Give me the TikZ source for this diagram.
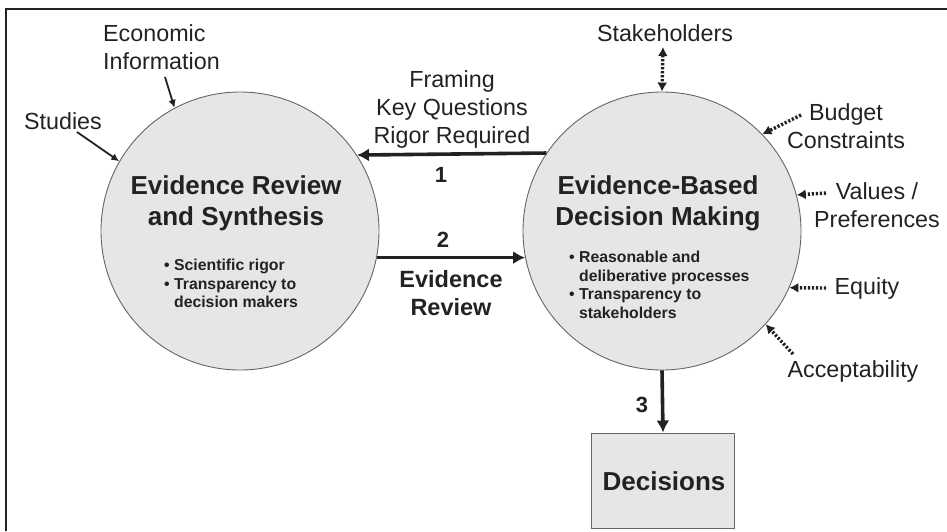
\documentclass[tikz,border=0pt]{standalone}
\usepackage{fontspec}
\setmainfont{Liberation Sans}
\usetikzlibrary{arrows.meta}
\definecolor{fillgray}{HTML}{E6E6E6}
\definecolor{inkc}{HTML}{222222}
\tikzset{
  bubble/.style={circle, draw=gray!80!black, line width=0.9pt, fill=fillgray, minimum size=278pt, inner sep=0pt},
  lab/.style={font=\fontsize{23.3}{28}\selectfont, text=inkc, align=center, inner sep=0pt},
  title/.style={font=\fontsize{26}{31}\selectfont\bfseries, text=inkc, align=center, inner sep=0pt},
  bul/.style={font=\fontsize{15.8}{18.5}\selectfont\bfseries, text=inkc, align=left, inner sep=0pt},
  num/.style={font=\fontsize{22}{26}\selectfont\bfseries, text=inkc, inner sep=0pt},
  thickarrow/.style={draw=inkc, line width=3.6pt, -{Latex[length=12pt,width=13pt]}},
  thinarrow/.style={draw=inkc, line width=1.8pt, -{Latex[length=8pt,width=7.5pt]}},
  dotarrow/.style={draw=inkc, line width=3.4pt, dash pattern=on 2.2pt off 1.8pt, -{Latex[length=9pt,width=10pt]}},
}
\begin{document}
\begin{tikzpicture}[x=1pt,y=-1pt]
\useasboundingbox (0,0) rectangle (947,531);
\draw[line width=1.4pt, inkc] (6,531) -- (6,9) -- (947,9);

% circles
\node[bubble] (L) at (240,231) {};
\node[bubble] (R) at (662,231) {};
\node[draw=gray!80!black, line width=1pt, fill=fillgray, minimum width=143pt, minimum height=95pt, inner sep=0pt] (D) at (663,480.5) {};

% titles
\node[title] (Lt) at (236,203) {Evidence Review\\and Synthesis};
\node[title] (Rt) at (658,203) {Evidence-Based\\Decision Making};
\node[title] (Dt) at (664,481) {Decisions};

% bullets
\node[bul, anchor=north west] (Lb) at (164,259) {\textbullet\ Scientific rigor\\\textbullet\ Transparency to\\\phantom{\textbullet\ }decision makers};
\node[bul, anchor=north west] (Rb) at (569,251) {\textbullet\ Reasonable and\\\phantom{\textbullet\ }deliberative processes\\\textbullet\ Transparency to\\\phantom{\textbullet\ }stakeholders};

% labels
\node[lab, align=left, anchor=west] (eco) at (103,47) {Economic\\Information};
\node[lab] (stu) at (63,121) {Studies};
\node[lab] (fra) at (452,109) {Framing\\Key Questions\\Rigor Required};
\node[num] (n1) at (441,175) {1};
\node[num] (n2) at (443,240) {2};
\node[lab, font=\fontsize{23.5}{28}\selectfont\bfseries] (evr) at (451,293) {Evidence\\Review};
\node[num] (n3) at (642,405) {3};
\node[lab] (sta) at (665,33) {Stakeholders};
\node[lab] (bud) at (846,126) {Budget\\Constraints};
\node[lab] (val) at (877,205) {Values /\\Preferences};
\node[lab] (equ) at (867,288) {Equity};
\node[lab] (acc) at (853,371) {Acceptability};

% connection points
\coordinate (stuS) at (77,132);
\coordinate (ecoS) at (165,77);
\coordinate (staS) at (663,47);
\coordinate (budS) at (801,115);
\coordinate (valS) at (826,193);
\coordinate (equS) at (826,288);
\coordinate (accS) at (793,354);

% arrows
\draw[thickarrow] (R.146.9) -- (L.33.1);
\draw[thickarrow] (L.-11.2) -- (R.191.2);
\draw[thickarrow] (R.south) -- (D.north);
\draw[thinarrow] (stuS) -- (L.150.7);
\draw[thinarrow] (ecoS) -- (L.118.4);
\draw[dotarrow, {Latex[length=9pt,width=10pt]}-{Latex[length=9pt,width=10pt]}] (staS) -- (R.90);
\draw[dotarrow] (budS) -- (R.44.7);
\draw[dotarrow] (valS) -- (R.15.8);
\draw[dotarrow] (equS) -- (R.-24.5);
\draw[dotarrow] (accS) -- (R.-42);
\end{tikzpicture}
\end{document}
